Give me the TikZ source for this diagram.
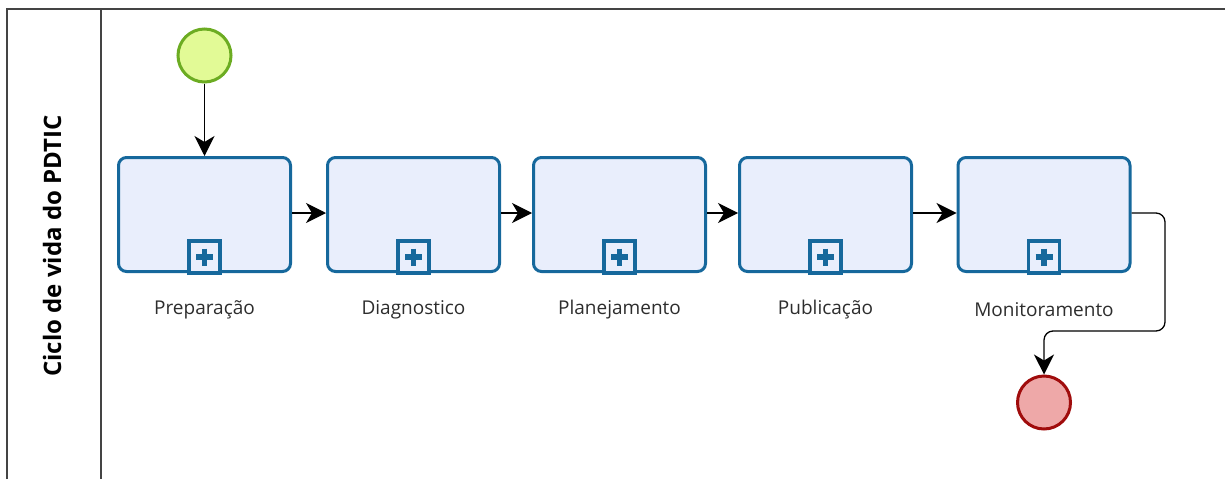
\documentclass[tikz,border=0pt]{standalone}
\usepackage{fontspec}
\setmainfont{Open Sans}
\usetikzlibrary{arrows.meta,calc}

\definecolor{taskline}{RGB}{22,104,156}
\definecolor{taskfill}{RGB}{233,238,252}
\definecolor{startline}{RGB}{108,172,34}
\definecolor{startfill}{RGB}{226,250,150}
\definecolor{endline}{RGB}{160,12,12}
\definecolor{endfill}{RGB}{238,168,168}
\definecolor{lanegray}{RGB}{68,68,68}
\definecolor{labelgray}{RGB}{45,45,45}

\tikzset{
  task/.style={draw=taskline, fill=taskfill, line width=3pt, rounded corners=8pt,
    minimum width=172pt, minimum height=114pt, inner sep=0pt},
  startev/.style={circle, draw=startline, fill=startfill, line width=3pt,
    minimum size=53pt, inner sep=0pt},
  endev/.style={circle, draw=endline, fill=endfill, line width=3pt,
    minimum size=53pt, inner sep=0pt},
  flow/.style={draw=black, line width=1.3pt,
    -{Stealth[length=20pt, width=20pt, inset=6pt]}},
  tasklabel/.style={font=\fontsize{19}{22}\selectfont, text=labelgray, inner sep=0pt},
  lanetitle/.style={font=\fontsize{24}{28}\selectfont\bfseries, text=black,
    rotate=90, inner sep=0pt},
  laneline/.style={draw=lanegray, line width=2pt},
  subbox/.style={draw=taskline, fill=taskfill, line width=3.5pt},
  subplus/.style={draw=taskline, line width=5.5pt},
}

\begin{document}
\begin{tikzpicture}[x=1pt, y=-1pt]
  \useasboundingbox (0,0) rectangle (1225,479);

  % pool frame and lane header
  \draw[laneline] (7,479) -- (7,9) -- (1225,9);
  \draw[laneline] (101,9) -- (101,479);
  \node[lanetitle] (title) at (52,246) {Ciclo de vida do PDTIC};

  % events
  \node[startev] (start) at (204.5,55.5) {};
  \node[endev] (end) at (1044,402.5) {};

  % collapsed sub-processes
  \node[task] (prep) at (204.5,214.5) {};
  \node[task] (diag) at (413.5,214.5) {};
  \node[task] (plan) at (619.5,214.5) {};
  \node[task] (publ) at (825.5,214.5) {};
  \node[task] (moni) at (1044,214.5) {};

  % sub-process markers
  \foreach \t in {prep,diag,plan,publ,moni}{
    \draw[subbox] ($(\t.south)+(-15.5,0)$) rectangle ($(\t.south)+(15.5,-32)$);
    \draw[subplus] ($(\t.south)+(-8.5,-16)$) -- ($(\t.south)+(8.5,-16)$);
    \draw[subplus] ($(\t.south)+(0,-24.5)$) -- ($(\t.south)+(0,-7.5)$);
  }

  % labels
  \node[tasklabel] (prepL) at (204.5,310) {Preparação};
  \node[tasklabel] (diagL) at (413.5,310) {Diagnostico};
  \node[tasklabel] (planL) at (619.5,310) {Planejamento};
  \node[tasklabel] (publL) at (825.5,310) {Publicação};
  \node[tasklabel] (moniL) at (1044,310) {Monitoramento};

  % sequence flows
  \draw[flow] (start) -- (prep);
  \draw[flow] (prep.east |- 0,213) -- (diag.west |- 0,213);
  \draw[flow] (diag.east |- 0,213) -- (plan.west |- 0,213);
  \draw[flow] (plan.east |- 0,213) -- (publ.west |- 0,213);
  \draw[flow] (publ.east |- 0,213) -- (moni.west |- 0,213);
  \coordinate (bend) at (1165,331);
  \draw[flow, rounded corners=9pt] (moni.east |- 0,213) -| (bend) -| (end);
\end{tikzpicture}
\end{document}
